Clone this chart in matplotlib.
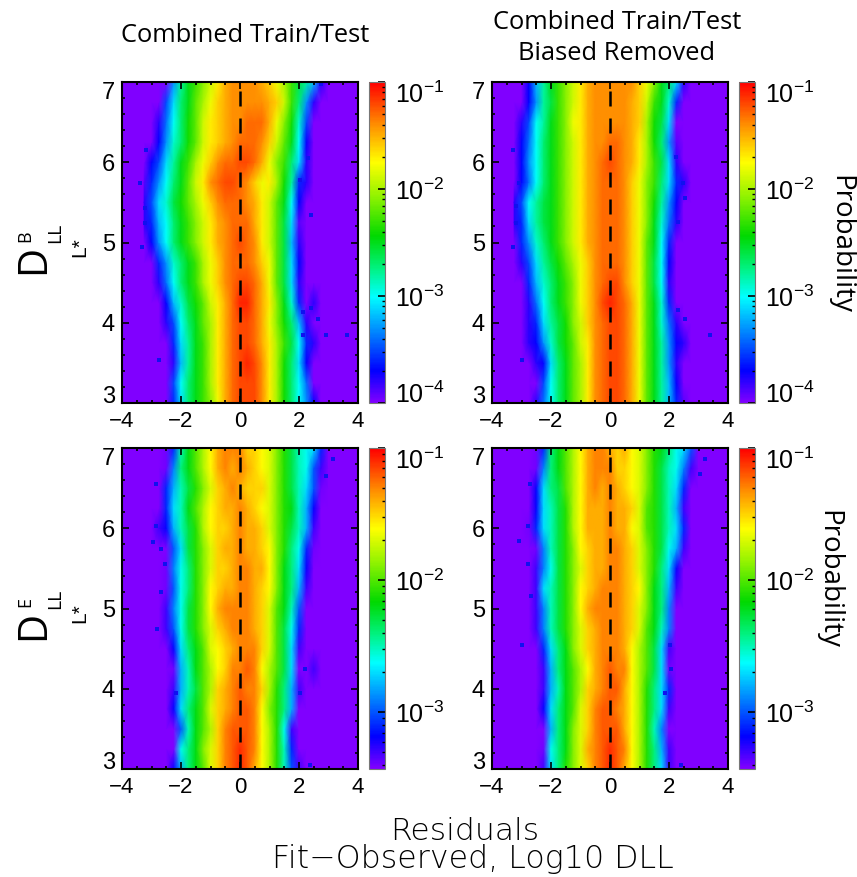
"""
Residual probability maps for DLL fits, by L* and fit type.
"""

import numpy as np
import matplotlib
matplotlib.use("Agg")
import matplotlib.pyplot as plt
from matplotlib.colors import LinearSegmentedColormap, LogNorm
from matplotlib.ticker import LogLocator, MultipleLocator, NullFormatter

# Values are log10(probability) x 10, read by colour off the picture
l_star = [3.0, 3.25, 3.5, 3.75, 4.0, 4.25, 4.5, 4.75, 5.0, 5.25, 5.5, 5.75, 6.0, 6.25, 6.5, 6.75, 7.0]
residuals = [-3.25, -3.0, -2.75, -2.5, -2.25, -2.0, -1.75, -1.5, -1.25, -1.0, -0.75, -0.5, -0.25, 0.0,
             0.25, 0.5, 0.75, 1.0, 1.25, 1.5, 1.75, 2.0, 2.25, 2.5, 2.75, 3.0, 3.25]

b_combined = [
    [-40, -40, -40, -40, -36, -31, -27, -25, -23, -21, -18, -15, -13, -12, -12, -12, -14, -17, -20, -24, -27, -30, -33, -37, -40, -40, -40],
    [-40, -40, -40, -40, -35, -30, -27, -25, -23, -20, -17, -15, -13, -12, -12, -12, -14, -17, -20, -24, -27, -30, -34, -40, -40, -40, -40],
    [-40, -40, -40, -40, -38, -32, -28, -25, -23, -20, -17, -15, -13, -12, -11, -12, -14, -17, -20, -24, -27, -31, -37, -40, -40, -40, -40],
    [-40, -40, -40, -40, -36, -31, -28, -25, -23, -20, -17, -15, -13, -12, -12, -13, -15, -17, -20, -23, -26, -30, -36, -38, -40, -40, -40],
    [-40, -40, -40, -38, -35, -30, -27, -25, -22, -20, -17, -15, -13, -12, -12, -13, -15, -18, -21, -24, -27, -32, -38, -40, -40, -40, -40],
    [-40, -40, -40, -37, -32, -29, -26, -24, -22, -19, -17, -15, -13, -11, -11, -13, -15, -17, -21, -25, -29, -36, -40, -38, -40, -40, -40],
    [-40, -40, -38, -34, -30, -27, -25, -23, -20, -18, -16, -14, -13, -12, -12, -13, -15, -18, -22, -26, -31, -38, -40, -40, -40, -40, -40],
    [-40, -40, -36, -33, -29, -27, -25, -23, -20, -18, -16, -14, -13, -13, -13, -14, -16, -18, -22, -26, -31, -37, -40, -40, -40, -40, -40],
    [-40, -37, -33, -30, -27, -25, -23, -21, -19, -17, -15, -14, -13, -12, -13, -14, -17, -19, -22, -26, -32, -38, -40, -40, -40, -40, -40],
    [-38, -36, -32, -30, -27, -25, -23, -21, -19, -17, -15, -14, -13, -13, -13, -15, -17, -19, -22, -26, -31, -39, -40, -40, -40, -40, -40],
    [-38, -35, -31, -29, -26, -24, -22, -20, -18, -16, -14, -13, -13, -13, -14, -15, -17, -19, -22, -25, -30, -37, -40, -40, -40, -40, -40],
    [-39, -36, -33, -30, -27, -25, -22, -19, -17, -14, -13, -12, -12, -13, -14, -16, -18, -17, -20, -24, -28, -36, -38, -40, -40, -40, -40],
    [-40, -37, -35, -31, -28, -25, -23, -20, -18, -16, -14, -13, -13, -12, -12, -13, -15, -18, -21, -23, -27, -31, -38, -40, -40, -40, -40],
    [-40, -40, -37, -33, -29, -27, -24, -22, -19, -17, -16, -15, -14, -13, -13, -13, -14, -16, -19, -22, -25, -30, -37, -40, -40, -40, -40],
    [-40, -40, -38, -34, -30, -27, -24, -22, -19, -17, -16, -15, -14, -14, -13, -13, -13, -15, -18, -21, -24, -29, -35, -40, -40, -40, -40],
    [-40, -40, -40, -35, -31, -27, -25, -22, -20, -18, -16, -15, -14, -14, -14, -14, -14, -15, -16, -19, -23, -27, -33, -38, -40, -40, -40],
    [-40, -40, -40, -40, -33, -28, -25, -23, -21, -19, -17, -15, -14, -14, -14, -14, -15, -16, -18, -20, -23, -26, -28, -32, -38, -40, -40],
]

b_unbiased = [
    [-40, -40, -40, -38, -34, -30, -27, -25, -22, -20, -17, -14, -13, -12, -12, -13, -15, -18, -22, -25, -28, -32, -36, -39, -40, -40, -40],
    [-40, -40, -40, -40, -35, -30, -27, -25, -22, -20, -17, -14, -13, -12, -12, -13, -15, -18, -22, -25, -28, -32, -37, -40, -40, -40, -40],
    [-40, -40, -40, -38, -37, -31, -27, -25, -22, -20, -17, -14, -13, -12, -12, -13, -15, -18, -22, -25, -28, -33, -38, -40, -40, -40, -40],
    [-40, -40, -38, -37, -33, -29, -26, -24, -22, -19, -17, -14, -13, -12, -12, -13, -15, -18, -22, -25, -28, -33, -37, -38, -40, -40, -40],
    [-40, -40, -38, -36, -31, -28, -26, -24, -21, -19, -16, -14, -13, -12, -12, -13, -15, -18, -22, -25, -29, -34, -38, -40, -40, -40, -40],
    [-40, -40, -38, -34, -30, -27, -25, -23, -21, -18, -16, -14, -12, -11, -12, -13, -15, -18, -22, -25, -29, -36, -40, -40, -40, -40, -40],
    [-40, -40, -36, -32, -29, -27, -25, -23, -21, -18, -16, -14, -13, -12, -12, -14, -16, -18, -22, -26, -30, -38, -40, -40, -40, -40, -40],
    [-40, -38, -35, -31, -28, -26, -24, -22, -20, -18, -16, -14, -13, -13, -13, -14, -16, -18, -22, -26, -30, -37, -40, -40, -40, -40, -40],
    [-40, -36, -33, -29, -27, -25, -23, -21, -19, -17, -15, -14, -13, -13, -13, -14, -16, -18, -22, -25, -30, -36, -40, -40, -40, -40, -40],
    [-38, -36, -31, -28, -26, -25, -23, -21, -19, -17, -15, -14, -13, -13, -13, -14, -16, -18, -21, -25, -29, -34, -38, -40, -40, -40, -40],
    [-38, -35, -30, -28, -26, -25, -23, -21, -19, -17, -15, -14, -13, -13, -13, -14, -16, -18, -21, -24, -28, -33, -37, -40, -40, -40, -40],
    [-40, -37, -34, -30, -27, -25, -23, -21, -19, -17, -15, -14, -13, -13, -13, -14, -16, -18, -21, -23, -27, -31, -36, -38, -40, -40, -40],
    [-40, -37, -33, -30, -27, -25, -23, -21, -19, -17, -15, -14, -13, -12, -13, -14, -15, -17, -20, -23, -26, -31, -38, -40, -40, -40, -40],
    [-40, -37, -34, -30, -27, -25, -23, -21, -19, -17, -15, -14, -14, -13, -13, -14, -15, -17, -20, -24, -27, -33, -39, -40, -40, -40, -40],
    [-40, -38, -35, -30, -28, -25, -23, -21, -18, -17, -15, -14, -14, -14, -14, -14, -15, -16, -20, -24, -26, -31, -40, -40, -40, -40, -40],
    [-40, -40, -37, -33, -28, -26, -23, -21, -19, -17, -15, -14, -14, -14, -14, -14, -15, -16, -19, -23, -25, -29, -36, -40, -40, -40, -40],
    [-40, -40, -37, -32, -28, -25, -23, -21, -19, -17, -15, -14, -14, -14, -14, -14, -14, -16, -18, -21, -25, -27, -31, -38, -40, -40, -40],
]

e_combined = [
    [-35, -35, -35, -35, -32, -28, -24, -22, -20, -17, -15, -13, -12, -11, -12, -14, -16, -18, -21, -25, -30, -33, -35, -35, -35, -35, -35],
    [-35, -35, -35, -35, -35, -26, -24, -22, -19, -17, -15, -13, -12, -11, -12, -13, -16, -18, -21, -25, -31, -35, -35, -35, -35, -35, -35],
    [-35, -35, -35, -35, -35, -30, -25, -22, -20, -18, -15, -13, -12, -12, -12, -13, -16, -18, -21, -26, -33, -35, -35, -35, -35, -35, -35],
    [-35, -35, -35, -35, -32, -27, -24, -22, -20, -17, -15, -14, -13, -12, -12, -13, -16, -19, -21, -24, -28, -35, -35, -35, -35, -35, -35],
    [-35, -35, -35, -35, -33, -28, -25, -23, -20, -18, -15, -14, -13, -12, -13, -13, -15, -18, -21, -24, -28, -33, -35, -35, -35, -35, -35],
    [-35, -35, -35, -35, -34, -28, -25, -22, -20, -18, -16, -15, -13, -13, -12, -13, -16, -18, -20, -23, -27, -35, -35, -33, -35, -35, -35],
    [-35, -35, -35, -35, -32, -27, -24, -22, -20, -17, -16, -15, -14, -13, -13, -13, -15, -17, -20, -23, -27, -33, -35, -35, -35, -35, -35],
    [-35, -35, -35, -33, -30, -26, -23, -21, -19, -17, -15, -14, -13, -13, -13, -14, -15, -17, -20, -23, -26, -31, -35, -35, -35, -35, -35],
    [-35, -35, -35, -33, -29, -26, -23, -21, -19, -16, -14, -13, -13, -13, -13, -14, -15, -17, -20, -22, -25, -30, -35, -35, -35, -35, -35],
    [-35, -35, -35, -34, -30, -26, -24, -21, -19, -16, -15, -14, -14, -13, -13, -14, -15, -16, -19, -22, -24, -28, -33, -35, -35, -35, -35],
    [-35, -35, -35, -34, -29, -26, -24, -21, -19, -17, -15, -15, -14, -13, -13, -14, -14, -16, -19, -22, -24, -27, -32, -35, -35, -35, -35],
    [-35, -35, -35, -35, -30, -27, -23, -21, -19, -17, -15, -14, -14, -13, -14, -14, -15, -16, -19, -21, -24, -26, -31, -34, -35, -35, -35],
    [-35, -35, -33, -32, -28, -25, -23, -21, -18, -16, -15, -15, -14, -13, -14, -14, -15, -17, -19, -21, -23, -25, -28, -33, -35, -35, -35],
    [-35, -35, -35, -31, -27, -25, -22, -20, -18, -16, -15, -14, -14, -13, -14, -15, -16, -17, -19, -21, -22, -25, -28, -32, -35, -35, -35],
    [-35, -35, -35, -31, -28, -25, -23, -21, -19, -17, -15, -14, -13, -14, -15, -15, -15, -17, -19, -21, -23, -25, -27, -30, -34, -35, -35],
    [-35, -35, -35, -34, -29, -24, -22, -20, -18, -16, -14, -13, -14, -13, -14, -15, -16, -17, -19, -21, -23, -25, -26, -30, -33, -35, -35],
    [-35, -35, -35, -34, -31, -25, -22, -20, -18, -16, -14, -13, -13, -13, -15, -15, -16, -17, -19, -21, -23, -25, -26, -27, -31, -35, -35],
]

e_unbiased = [
    [-35, -35, -35, -35, -33, -27, -24, -21, -19, -17, -15, -13, -12, -11, -12, -14, -16, -18, -21, -24, -27, -33, -35, -35, -35, -35, -35],
    [-35, -35, -35, -35, -34, -26, -24, -22, -19, -17, -14, -13, -12, -11, -12, -13, -16, -18, -21, -24, -28, -33, -35, -35, -35, -35, -35],
    [-35, -35, -35, -35, -35, -28, -24, -22, -19, -17, -15, -13, -12, -12, -12, -14, -16, -18, -21, -25, -29, -35, -35, -35, -35, -35, -35],
    [-35, -35, -35, -35, -32, -27, -24, -22, -20, -17, -15, -13, -12, -12, -13, -14, -16, -18, -21, -24, -27, -33, -35, -35, -35, -35, -35],
    [-35, -35, -35, -35, -33, -28, -25, -22, -20, -18, -15, -14, -13, -12, -12, -14, -16, -18, -21, -24, -27, -31, -35, -35, -35, -35, -35],
    [-35, -35, -35, -35, -33, -28, -24, -22, -20, -18, -16, -14, -13, -12, -13, -13, -16, -18, -20, -23, -27, -34, -35, -35, -35, -35, -35],
    [-35, -35, -35, -35, -31, -27, -24, -22, -19, -17, -15, -14, -13, -13, -13, -14, -16, -18, -20, -23, -27, -33, -35, -35, -35, -35, -35],
    [-35, -35, -35, -33, -29, -25, -23, -21, -19, -17, -15, -14, -13, -13, -13, -14, -15, -17, -20, -22, -25, -29, -35, -35, -35, -35, -35],
    [-35, -35, -35, -33, -29, -25, -23, -21, -19, -16, -14, -13, -13, -13, -13, -14, -15, -17, -19, -22, -24, -29, -35, -35, -35, -35, -35],
    [-35, -35, -35, -33, -27, -25, -23, -21, -19, -16, -15, -14, -13, -13, -13, -14, -15, -16, -19, -22, -24, -28, -33, -35, -35, -35, -35],
    [-35, -35, -35, -33, -29, -26, -23, -21, -19, -17, -15, -14, -14, -13, -13, -14, -15, -17, -19, -21, -24, -27, -32, -35, -35, -35, -35],
    [-35, -35, -35, -34, -29, -25, -23, -21, -19, -16, -15, -14, -14, -13, -13, -14, -15, -17, -19, -21, -23, -26, -28, -33, -35, -35, -35],
    [-35, -35, -34, -31, -27, -25, -23, -21, -18, -16, -14, -14, -14, -13, -14, -14, -16, -17, -20, -21, -23, -25, -27, -31, -35, -35, -35],
    [-35, -35, -35, -32, -27, -25, -23, -21, -18, -16, -14, -14, -14, -13, -14, -14, -15, -17, -20, -21, -23, -25, -28, -33, -35, -35, -35],
    [-35, -35, -35, -32, -27, -24, -23, -20, -18, -16, -14, -13, -14, -13, -14, -15, -16, -17, -19, -21, -23, -25, -27, -31, -35, -35, -35],
    [-35, -35, -35, -34, -29, -24, -22, -20, -18, -16, -14, -13, -13, -13, -15, -15, -16, -17, -19, -21, -23, -25, -26, -29, -33, -35, -35],
    [-35, -35, -35, -34, -31, -24, -22, -20, -18, -16, -14, -13, -13, -14, -15, -14, -16, -17, -19, -21, -22, -24, -26, -27, -30, -35, -35],
]

# Lone blue cells outside the main band
b_combined_stray_x = [-3.18, -3.4, -3.31, -3.23, -3.23, 2.93, 3.63, 2.64, 2.42, 2.14, 2.14, 2.3, 2.42, -2.75, 2.76, 2.02]
b_combined_stray_l = [6.15, 5.74, 4.95, 5.43, 5.24, 3.85, 3.85, 4.05, 4.18, 4.14, 3.85, 6.05, 5.34, 3.54, 6.97, 5.78]
b_unbiased_stray_x = [-3.29, -3.1, -3.29, -3.18, -3.18, -2.97, 3.4, 2.53, 2.53, 2.3, 2.25, 2.47, 2.3]
b_unbiased_stray_l = [6.15, 5.74, 4.95, 5.45, 5.24, 3.54, 3.85, 4.05, 5.55, 5.26, 6.07, 5.74, 4.16]
e_combined_stray_x = [-2.95, -2.86, -2.67, -2.67, -2.55, 2.02, 2.19, 2.36, 2.93, 3.15, -2.86, -2.81, -2.16]
e_combined_stray_l = [5.83, 6.55, 5.2, 5.74, 5.55, 3.95, 4.24, 3.05, 6.65, 6.86, 6.03, 4.74, 3.95]
e_unbiased_stray_x = [-3.08, -2.78, -2.7, -2.67, -2.78, -2.97, 2.08, 2.42, 3.21, 3.04, 1.85, 2.02]
e_unbiased_stray_l = [5.84, 6.03, 6.55, 5.15, 5.55, 4.55, 4.24, 3.05, 6.86, 6.68, 3.95, 4.55]

x_ticks = [-4, -2, 0, 2, 4]
y_ticks = [3, 4, 5, 6, 7]
titles = ["Combined Train/Test", "Combined Train/Test\nBiased Removed"]

# IDL style rainbow
idl_rainbow = LinearSegmentedColormap.from_list("idl_rainbow", [
    (0.0, (0.50, 0.0, 1.0)), (0.10, (0.0, 0.0, 1.0)), (0.33, (0.0, 1.0, 1.0)),
    (0.42, (0.0, 0.95, 0.5)), (0.52, (0.0, 0.85, 0.0)), (0.64, (0.55, 0.95, 0.0)),
    (0.75, (1.0, 1.0, 0.0)), (0.87, (1.0, 0.55, 0.0)), (1.0, (1.0, 0.0, 0.0)),
])

W, H = 857, 877
TICK_FONT = "Liberation Sans"
TITLE_FONT = "Open Sans"
STROKE_FONT = "DejaVu Sans"

plt.rcParams["mathtext.default"] = "regular"


def px_box(left, top, right, bottom):
    """Turn pixel edges of the reference into a figure rectangle."""
    return [left / W, 1 - bottom / H, (right - left) / W, (bottom - top) / H]


def label(fig, x, y, text, **kw):
    """Place a text at a pixel position of the reference."""
    kw.setdefault("ha", "center")
    kw.setdefault("va", "center")
    fig.text(x / W, 1 - y / H, text, **kw)


def draw_panel(fig, box, cbox, values, vmin, stray_x, stray_l):
    ax = fig.add_axes(px_box(*box))
    ax.set_facecolor(idl_rainbow(0.0))
    norm = LogNorm(vmin=vmin, vmax=1e-1)
    probability = 10.0 ** (np.array(values) / 10.0)
    mesh = ax.pcolormesh(residuals, l_star, probability, cmap=idl_rainbow, norm=norm,
                         shading="gouraud", rasterized=True)
    ax.scatter(stray_x, stray_l, marker="s", s=8.5, color="#1010f0", linewidths=0, zorder=2)
    ax.axvline(0, color="black", lw=1.8, dashes=(6, 4.8), zorder=3)
    ax.set_xlim(-4, 4)
    ax.set_ylim(3, 7)
    ax.set_xticks(x_ticks)
    ax.set_yticks(y_ticks)
    ax.xaxis.set_minor_locator(MultipleLocator(0.5))
    ax.yaxis.set_minor_locator(MultipleLocator(0.2))
    ax.tick_params(which="both", direction="in", top=True, right=True, color="black", width=1.2)
    ax.tick_params(which="major", length=5)
    ax.tick_params(which="minor", length=2.5)
    ax.tick_params(axis="x", pad=6)
    ax.tick_params(axis="y", pad=5)
    for tick in ax.get_xticklabels():
        tick.set_fontfamily(TICK_FONT)
        tick.set_fontsize(16)
    for tick in ax.get_yticklabels():
        tick.set_fontfamily(TICK_FONT)
        tick.set_fontsize(17)
        # end labels sit inside the axis height, as in the reference
        if tick.get_position()[1] == 7:
            tick.set_va("top")
        elif tick.get_position()[1] == 3:
            tick.set_va("baseline")
    for spine in ax.spines.values():
        spine.set_linewidth(1.5)

    cax = fig.add_axes(px_box(*cbox))
    cbar = fig.colorbar(mesh, cax=cax)
    cbar.outline.set_linewidth(0.8)
    cbar.outline.set_edgecolor("#777777")
    cax.yaxis.set_major_locator(LogLocator(base=10, numticks=6))
    cax.yaxis.set_minor_locator(LogLocator(base=10, subs=np.arange(2, 10), numticks=12))
    cax.yaxis.set_minor_formatter(NullFormatter())
    cax.tick_params(which="major", direction="in", length=5, width=1.2, pad=7)
    cax.tick_params(which="minor", direction="in", length=2.5, width=1)
    for tick in cax.get_yticklabels():
        tick.set_fontfamily(TICK_FONT)
        tick.set_fontsize(18)
        level = tick.get_position()[1]
        if abs(level - 1e-1) < 1e-6:
            tick.set_va("top")
        elif abs(level - 1e-4) < 1e-8:
            tick.set_va("baseline")


def main():
    fig = plt.figure(figsize=(W / 100, H / 100), dpi=100)

    draw_panel(fig, (122, 82, 358, 403), (369, 82, 385, 403), b_combined, 1e-4,
               b_combined_stray_x, b_combined_stray_l)
    draw_panel(fig, (492, 82, 728, 403), (739, 82, 755, 403), b_unbiased, 1e-4,
               b_unbiased_stray_x, b_unbiased_stray_l)
    draw_panel(fig, (122, 448, 358, 769), (369, 448, 385, 769), e_combined, 10 ** -3.43,
               e_combined_stray_x, e_combined_stray_l)
    draw_panel(fig, (492, 448, 728, 769), (739, 448, 755, 769), e_unbiased, 10 ** -3.43,
               e_unbiased_stray_x, e_unbiased_stray_l)

    label(fig, 245, 36, titles[0], family=TITLE_FONT, fontsize=18.4)
    label(fig, 617, 38, titles[1], family=TITLE_FONT, fontsize=18.4, linespacing=1.3)

    label(fig, 840, 244, "Probability", family=TITLE_FONT, fontsize=20, rotation=270)
    label(fig, 828, 579, "Probability", family=TITLE_FONT, fontsize=20, rotation=270)

    # Rotated D_LL labels are put together from separate pieces
    for dy, letter, star_y in ((0, "B", 247), (366, "E", 613)):
        label(fig, 34, 259 + dy, "D", family=TITLE_FONT, fontsize=29, rotation=90)
        label(fig, 25, 236 + dy, letter, family=TITLE_FONT, fontsize=13, rotation=90)
        label(fig, 55, 233 + dy, "LL", family=TITLE_FONT, fontsize=14, rotation=90)
        label(fig, 80, star_y, "L*", family=TICK_FONT, fontsize=15, rotation=90)

    label(fig, 465, 831, "Residuals", family=STROKE_FONT, fontsize=22.6, fontweight="light")
    label(fig, 473, 859, "Fit\u2212Observed, Log10 DLL", family=STROKE_FONT, fontsize=22.8, fontweight="light")

    fig.savefig("out.png", dpi=100)


if __name__ == "__main__":
    main()
